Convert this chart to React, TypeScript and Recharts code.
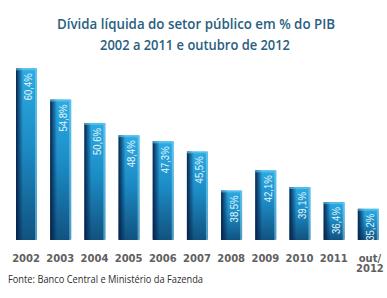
import React from 'react';
import { BarChart, Bar, XAxis, YAxis, LabelList } from 'recharts';

const categories = ['2002', '2003', '2004', '2005', '2006', '2007', '2008', '2009', '2010', '2011', 'out/2012'];
const debtValues = [60.4, 54.8, 50.6, 48.4, 47.3, 45.5, 38.5, 42.1, 39.1, 36.4, 35.2];
const titleLines = ['Dívida líquida do setor público em % do PIB', '2002 a 2011 e outubro de 2012'];
const sourceText = 'Fonte: Banco Central e Ministério da Fazenda';

const data = categories.map((c, i) => ({ name: c, value: debtValues[i] }));

const BarShape = (props: any) => {
  const { x, y, width, height } = props;
  if (!height || height <= 0) return null;
  return (
    <g>
      <rect x={x} y={y} width={width} height={height} fill="url(#barGrad)" rx={1} />
      <rect x={x} y={y} width={7} height={height} fill="url(#leftGrad)" />
      <rect x={x + width - 2} y={y + 1} width={2} height={height - 1} fill="#7fd6f4" opacity={0.55} />
      <rect x={x} y={y} width={width} height={2} fill="#6cc9ef" opacity={0.6} />
    </g>
  );
};

const ValueLabel = (props: any) => {
  const { x, y, width, value } = props;
  const cx = x + width / 2 + 2;
  const ty = y + 5;
  return (
    <text
      x={cx}
      y={ty}
      transform={`rotate(-90 ${cx} ${ty})`}
      textAnchor="end"
      dominantBaseline="central"
      fill="#e8f6fc"
      fontSize={10.5}
      fontFamily="Liberation Sans, Arial, sans-serif"
      textLength={27}
      lengthAdjust="spacingAndGlyphs"
    >
      {String(value).replace('.', ',') + '%'}
    </text>
  );
};

const Tick = (props: any) => {
  const { x, y, payload } = props;
  const v: string = payload.value;
  const common = {
    fill: '#606060',
    fontSize: 10,
    fontWeight: 700 as const,
    fontFamily: 'DejaVu Sans, sans-serif',
    textAnchor: 'middle' as const,
  };
  if (v.includes('/')) {
    const [a, b] = v.split('/');
    return (
      <g>
        <text x={x + 2} y={y + 14} {...common}>{a + '/'}</text>
        <text x={x + 2} y={y + 24} {...common}>{b}</text>
      </g>
    );
  }
  return (
    <text x={x} y={y + 14} {...common}>{v}</text>
  );
};

export default function App() {
  return (
    <div style={{ position: 'absolute', left: 0, top: 0, width: 387, height: 298, background: '#fff' }}>
      <BarChart
        width={387}
        height={298}
        data={data}
        margin={{ top: 65, right: 2, bottom: 38, left: 9 }}
      >
        <defs>
          <linearGradient id="barGrad" x1="0" y1="0" x2="0" y2="1">
            <stop offset="0%" stopColor="#2cabe3" />
            <stop offset="45%" stopColor="#1c8cc6" />
            <stop offset="100%" stopColor="#11527f" />
          </linearGradient>
          <linearGradient id="leftGrad" x1="0" y1="0" x2="1" y2="0">
            <stop offset="0%" stopColor="#061d45" stopOpacity={0.95} />
            <stop offset="100%" stopColor="#061d45" stopOpacity={0} />
          </linearGradient>
        </defs>
        <XAxis dataKey="name" axisLine={false} tickLine={false} height={20} tick={<Tick />} interval={0} />
        <YAxis hide domain={[29.6, 61]} allowDataOverflow />
        <Bar dataKey="value" barSize={21} shape={<BarShape />} isAnimationActive={false}>
          <LabelList dataKey="value" content={<ValueLabel />} />
        </Bar>
      </BarChart>
      <svg width={387} height={298} style={{ position: 'absolute', left: 0, top: 0, pointerEvents: 'none' }}>
        <text x={196} y={29} textAnchor="middle" fill="#28607f" fontSize={15} fontWeight={600} fontFamily="Open Sans, sans-serif" textLength={278} lengthAdjust="spacingAndGlyphs">
          {titleLines[0]}
        </text>
        <text x={195} y={50} textAnchor="middle" fill="#28607f" fontSize={15} fontWeight={600} fontFamily="Open Sans, sans-serif" textLength={190} lengthAdjust="spacingAndGlyphs">
          {titleLines[1]}
        </text>
        <text x={8} y={283} fill="#2e2e2e" fontSize={11.5} fontFamily="Open Sans, sans-serif" textLength={195} lengthAdjust="spacingAndGlyphs">
          {sourceText}
        </text>
      </svg>
    </div>
  );
}
